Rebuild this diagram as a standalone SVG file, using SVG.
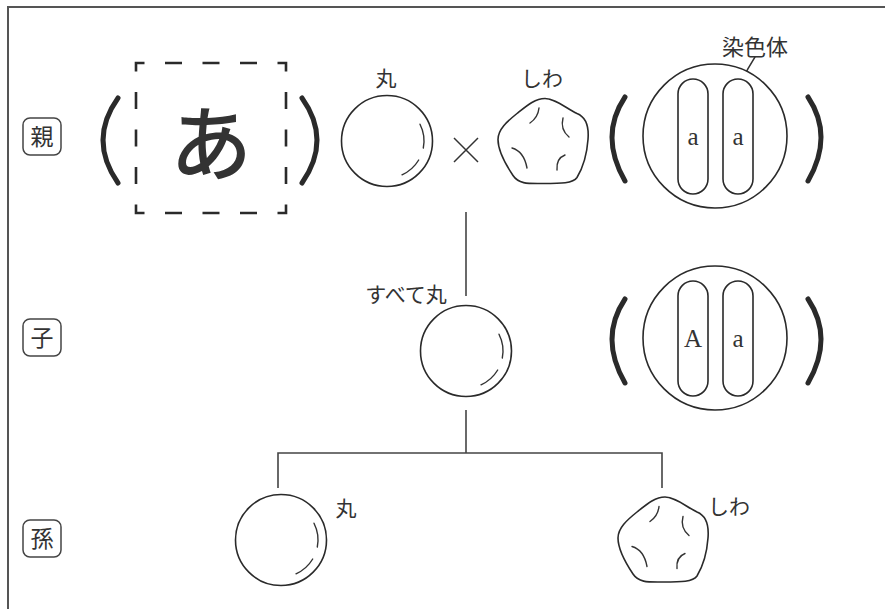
<svg xmlns="http://www.w3.org/2000/svg" width="885" height="609" viewBox="0 0 885 609">
  <style>
    .frame { fill: none; stroke: #555; stroke-width: 2; }
    .line { fill: none; stroke: #444; stroke-width: 1.6; }
    .thin { fill: none; stroke: #333; stroke-width: 1.4; stroke-linecap: round; }
    .paren { fill: none; stroke: #2a2a2a; stroke-width: 5; stroke-linecap: round; }
    .tag { fill: #fff; stroke: #444; stroke-width: 1.5; }
    .jp { font-family: "Noto Sans CJK JP", "Noto Sans", sans-serif; fill: #333; }
    .gene { font-family: "Liberation Serif", serif; fill: #333; font-size: 25px; text-anchor: middle; }
    .dash { fill: none; stroke: #2a2a2a; stroke-width: 2.6; stroke-dasharray: 17 20.5; stroke-dashoffset: 8.5; }
  </style>
  <defs>
    <!-- smooth pea with highlight -->
    <g id="roundPea">
      <circle r="45.5" fill="#fff" stroke="#2a2a2a" stroke-width="1.6"/>
      <path class="thin" d="M 33,-16.8 A 37 37 0 0 1 36.3,7"/>
      <path class="thin" d="M 31.7,19 A 37 37 0 0 1 15,33.8"/>
    </g>
    <!-- wrinkled pea -->
    <g id="wrinkledPea">
      <path fill="#fff" stroke="#2a2a2a" stroke-width="1.6" d="M 2,-43 C 12,-43 22,-34 34,-28 C 44,-24 46,-14 45,-2 C 44,12 40,26 34,36 C 30,42 18,42 0,42 C -14,42 -24,43 -30,34 C -38,22 -45,10 -45,-2 C -45,-12 -36,-20 -26,-28 C -16,-36 -8,-43 2,-43 Z"/>
      <path class="thin" d="M -4,-33.5 Q -5,-24 -13,-18.5"/>
      <path class="thin" d="M 20,-23.5 Q 17,-12 26,-4.5"/>
      <path class="thin" d="M -31,6.5 Q -19,10 -16,26.5"/>
      <path class="thin" d="M 22,13.5 Q 13,17 14,28.5"/>
    </g>
    <!-- cell with a pair of rod chromosomes -->
    <g id="cell">
      <circle r="72" fill="#fff" stroke="#2a2a2a" stroke-width="1.6"/>
      <rect x="-37" y="-57" width="30" height="115" rx="15" fill="none" stroke="#2a2a2a" stroke-width="1.6"/>
      <rect x="8" y="-57" width="30" height="115" rx="15" fill="none" stroke="#2a2a2a" stroke-width="1.6"/>
      <path class="paren" d="M -90,-39 Q -116,0 -90,45"/>
      <path class="paren" d="M 93,-39 Q 119,0 93,45"/>
    </g>
  </defs>

  <!-- frame edges -->
  <path class="frame" d="M 8,609 L 8,7 L 885,7"/>

  <!-- generation tags -->
  <g id="tag-parent">
    <rect class="tag" x="23" y="118" width="38" height="37" rx="7"/>
    <text class="jp" x="42" y="145" font-size="23" text-anchor="middle">親</text>
  </g>
  <g id="tag-child">
    <rect class="tag" x="23" y="319" width="38" height="37" rx="7"/>
    <text class="jp" x="42" y="346" font-size="23" text-anchor="middle">子</text>
  </g>
  <g id="tag-grandchild">
    <rect class="tag" x="23" y="520" width="38" height="37" rx="7"/>
    <text class="jp" x="42" y="547" font-size="23" text-anchor="middle">孫</text>
  </g>

  <!-- connectors -->
  <g id="connectors">
    <line class="line" x1="466" y1="212" x2="466" y2="296"/>
    <line class="line" x1="466" y1="410" x2="466" y2="453"/>
    <polyline class="line" points="278,488 278,453 662,453 662,488"/>
    <path class="thin" d="M 755,57 Q 748,68 742,80"/>
  </g>

  <!-- parent: blank genotype box -->
  <g id="parent-genotype">
    <path class="paren" d="M 118,98 Q 88,140 118,183"/>
    <path class="paren" d="M 302,98 Q 332,140 302,183"/>
    <rect class="dash" x="136" y="63" width="150" height="150"/>
    <text class="jp" x="211" y="174" font-size="82" font-weight="500" text-anchor="middle">あ</text>
  </g>

  <g id="parent-round">
    <text class="jp" x="386" y="86" font-size="21" text-anchor="middle">丸</text>
    <use href="#roundPea" x="387" y="141"/>
  </g>

  <g id="cross">
    <path d="M 454,138 L 478,162 M 478,138 L 454,162" fill="none" stroke="#333" stroke-width="1.5"/>
  </g>

  <g id="parent-wrinkled">
    <text class="jp" x="542" y="86" font-size="21" text-anchor="middle">しわ</text>
    <use href="#wrinkledPea" x="543" y="141.5"/>
  </g>

  <g id="parent-cell">
    <use href="#cell" x="715" y="136"/>
    <text class="gene" x="693" y="145">a</text>
    <text class="gene" x="738" y="145">a</text>
    <text class="jp" x="755" y="55" font-size="22" text-anchor="middle">染色体</text>
  </g>

  <!-- F1 -->
  <g id="child-round">
    <text class="jp" x="406" y="302" font-size="21" text-anchor="middle">すべて丸</text>
    <use href="#roundPea" x="466" y="351"/>
  </g>

  <g id="child-cell">
    <use href="#cell" x="715" y="338"/>
    <text class="gene" x="693" y="347">A</text>
    <text class="gene" x="738" y="347">a</text>
  </g>

  <!-- F2 -->
  <g id="grandchild-round">
    <use href="#roundPea" x="281" y="540"/>
    <text class="jp" x="346" y="516" font-size="21" text-anchor="middle">丸</text>
  </g>

  <g id="grandchild-wrinkled">
    <use href="#wrinkledPea" x="663" y="540"/>
    <text class="jp" x="729" y="514" font-size="21" text-anchor="middle">しわ</text>
  </g>
</svg>
